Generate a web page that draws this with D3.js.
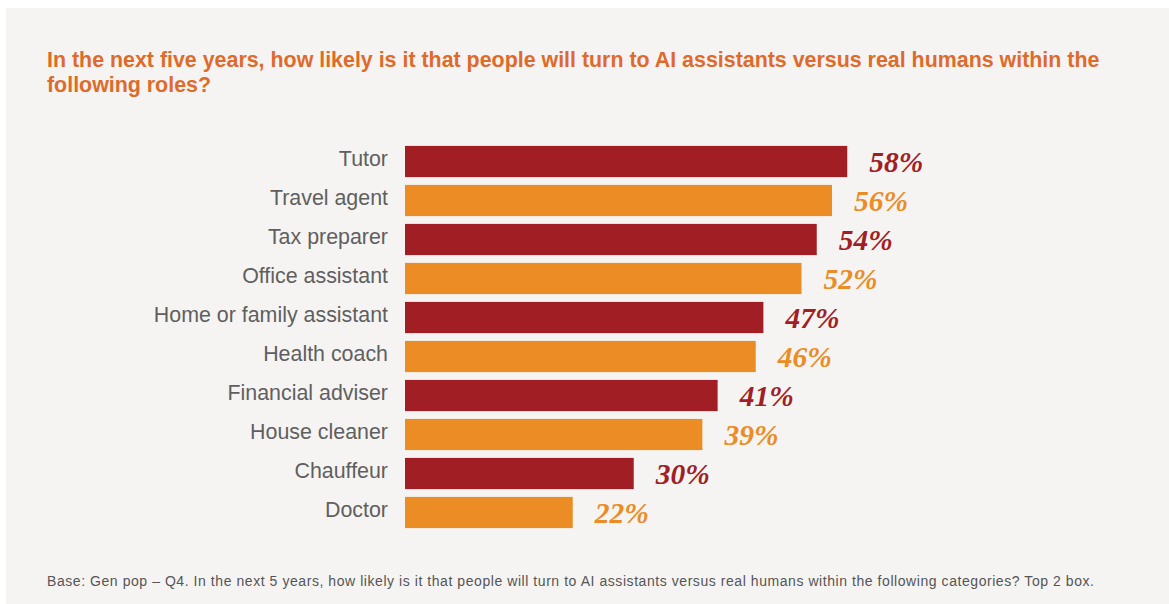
<!DOCTYPE html>
<html>
<head>
<meta charset="utf-8">
<script src="https://cdn.jsdelivr.net/npm/d3@7"></script>
<style>
  html, body { margin: 0; padding: 0; background: #ffffff; }
  svg { display: block; }
</style>
</head>
<body>
<svg id="chart" width="1169" height="604"></svg>
<script>
// Survey roles and share answering "likely" (top 2 box), in percent
const roles = [
  "Tutor", "Travel agent", "Tax preparer", "Office assistant",
  "Home or family assistant", "Health coach", "Financial adviser",
  "House cleaner", "Chauffeur", "Doctor"
];
const shares = [58, 56, 54, 52, 47, 46, 41, 39, 30, 22];
const barColors = ["#A11F24", "#EC8C25"];

const titleLines = [
  "In the next five years, how likely is it that people will turn to AI assistants versus real humans within the",
  "following roles?"
];
const footnote = "Base: Gen pop \u2013 Q4. In the next 5 years, how likely is it that people will turn to AI assistants versus real humans within the following categories? Top 2 box.";

const svg = d3.select("#chart");
const W = 1169, H = 604;

// panel background
svg.append("rect")
  .attr("x", 6).attr("y", 8)
  .attr("width", W - 6).attr("height", H - 8)
  .attr("fill", "#F5F4F3");

// title
const title = svg.append("text")
  .attr("x", 47).attr("y", 67)
  .attr("fill", "#E06A2A")
  .attr("font-family", "'Liberation Sans', Arial, Helvetica, sans-serif")
  .attr("font-weight", "bold")
  .attr("font-size", 21.4);
titleLines.forEach((line, i) => {
  title.append("tspan").attr("x", 47).attr("dy", i === 0 ? 0 : 25).text(line);
});

// scales
const x = d3.scaleLinear().domain([0, 100]).range([405, 405 + 762.5]);
const y = d3.scaleBand().domain(roles).range([142, 532]).paddingInner(0.2).paddingOuter(0.1);

const data = roles.map((r, i) => ({ role: r, value: shares[i], color: barColors[i % 2] }));

// bars
svg.append("g").selectAll("rect")
  .data(data)
  .join("rect")
  .attr("x", x(0))
  .attr("y", d => y(d.role))
  .attr("width", d => x(d.value) - x(0))
  .attr("height", y.bandwidth())
  .attr("fill", d => d.color);

// category labels
const yAxis = d3.axisLeft(y).tickSize(0).tickPadding(0);
const gAxis = svg.append("g")
  .attr("transform", `translate(388,0)`)
  .call(yAxis);
gAxis.select(".domain").remove();
gAxis.selectAll("text")
  .attr("font-family", "'Liberation Sans', Arial, Helvetica, sans-serif")
  .attr("font-size", 21.4)
  .attr("fill", "#5F5F5F")
  .attr("dy", "0.2em");

// value labels
svg.append("g").selectAll("text")
  .data(data)
  .join("text")
  .attr("x", d => x(d.value) + 22)
  .attr("y", d => y(d.role) + y.bandwidth() / 2)
  .attr("dy", "0.36em")
  .attr("fill", d => d.color)
  .attr("font-family", "Georgia, 'Liberation Serif', 'DejaVu Serif', serif")
  .attr("font-weight", "bold")
  .attr("font-style", "italic")
  .attr("font-size", 29.5)
  .text(d => d.value + "%");

// footnote
svg.append("text")
  .attr("x", 47).attr("y", 586)
  .attr("fill", "#555555")
  .attr("font-family", "'Liberation Sans', Arial, sans-serif")
  .attr("font-size", 14)
  .attr("letter-spacing", 0.56)
  .text(footnote);
</script>
</body>
</html>
